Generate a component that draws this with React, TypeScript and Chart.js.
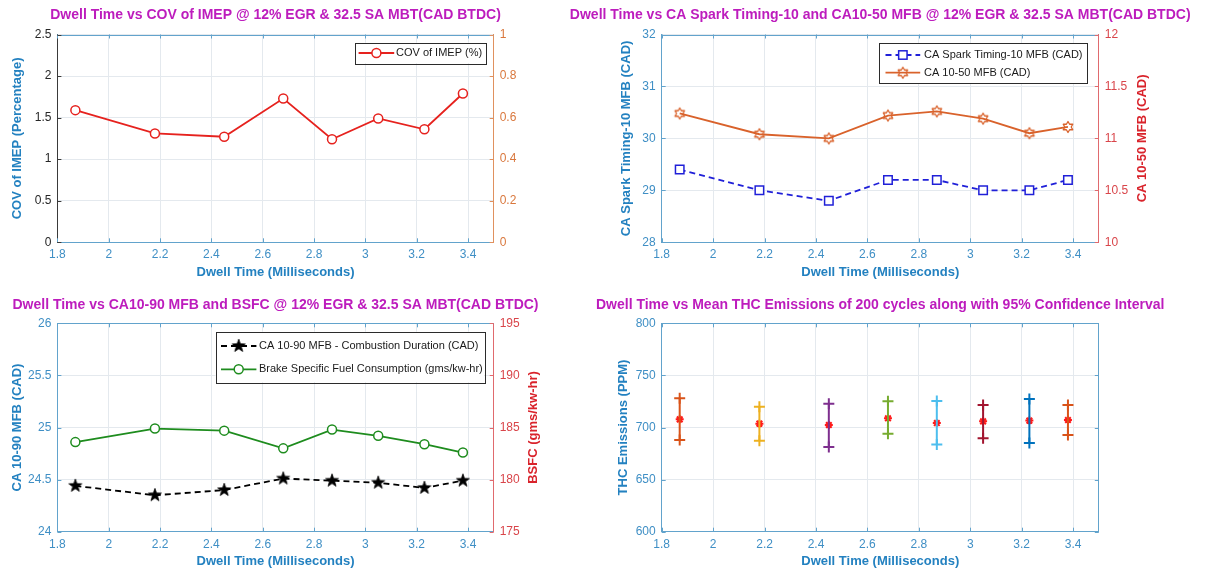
import React, { useEffect, useRef } from "react";
import { Chart, registerables } from "chart.js";

Chart.register(...registerables);

const PAGE_W = 1205;
const PAGE_H = 569;
const FONT = "'Liberation Sans', Arial, Helvetica, sans-serif";
const TITLE_HALF = 7.8; // half the line height of a 13px axis title

// ---- measurements ----
const dwellTime = [1.87, 2.18, 2.45, 2.68, 2.87, 3.05, 3.23, 3.38];
const covImep = [1.59, 1.31, 1.27, 1.73, 1.24, 1.49, 1.36, 1.79];
const sparkTo10Mfb = [29.4, 29.0, 28.8, 29.2, 29.2, 29.0, 29.0, 29.2];
const ca10to50Mfb = [11.24, 11.04, 11.0, 11.22, 11.26, 11.19, 11.05, 11.11];
const ca10to90Mfb = [24.44, 24.35, 24.4, 24.51, 24.49, 24.47, 24.42, 24.49];
const bsfc = [183.6, 184.9, 184.7, 183.0, 184.8, 184.2, 183.4, 182.6];
const thcMean = [707.8, 703.7, 702.4, 708.8, 704.3, 705.9, 706.6, 707.2];
const thcLow = [688.0, 687.4, 681.3, 694.1, 683.8, 689.6, 685.1, 692.8];
const thcHigh = [728.0, 720.0, 722.9, 725.1, 725.4, 721.6, 727.4, 721.6];

// ---- tick labels ----
const dwellTicks = [1.8, 2, 2.2, 2.4, 2.6, 2.8, 3, 3.2, 3.4];
const covTicks = [0, 0.5, 1, 1.5, 2, 2.5];
const covRightTicks = [0, 0.2, 0.4, 0.6, 0.8, 1];
const sparkTicks = [28, 29, 30, 31, 32];
const ca1050Ticks = [10, 10.5, 11, 11.5, 12];
const ca1090Ticks = [24, 24.5, 25, 25.5, 26];
const bsfcTicks = [175, 180, 185, 190, 195];
const thcTicks = [600, 650, 700, 750, 800];

// ---- colours ----
const MAGENTA = "#bd1cbd";
const BLUE_TITLE = "#2381c0";
const BLUE_TICK = "#3f8fc5";
const BLUE_LINE = "#62a3cc";
const DARK_TICK = "#262626";
const DARK_LINE = "#3a3a3a";
const ORANGE_TICK = "#d9773c";
const ORANGE_LINE = "#e0915f";
const RED_TITLE = "#d9232b";
const RED_TICK = "#d9454a";
const RED_LINE = "#e06a6e";
const GRID = "#e4e9ee";

const COV_RED = "#e6221e";
const SPARK_BLUE = "#2020d8";
const CA1050_ORANGE = "#d9622b";
const BSFC_GREEN = "#1e8c1e";
const MEAN_RED = "#ff1a1a";
const thcColors = ["#D95319", "#EDB120", "#7E2F8E", "#77AC30", "#4DBEEE", "#A2142F", "#0072BD", "#D95319"];

const fmt = (v: number) => String(Math.round(v * 1000) / 1000);
const pts = (ys: number[]) => dwellTime.map((x, i) => ({ x, y: ys[i] }));

type Marker = (ctx: CanvasRenderingContext2D, x: number, y: number) => void;
interface LegendRow { y: number; label: string; color: string; width: number; dash?: number[]; marker: Marker }
interface LegendSpec { x1: number; y1: number; x2: number; y2: number; sx1: number; sx2: number; tx: number; rows: LegendRow[] }
interface AxisSpec { ticks: number[]; title?: string; titleX?: number; titleColor: string; tickColor: string; lineColor: string }
interface PanelSpec {
  L: number; R: number; T: number; B: number;
  title: string; titleX: number; titleY: number; xTitleY: number;
  left: AxisSpec; right?: AxisSpec;
  datasets: any[]; legend?: LegendSpec;
}

function starImage(points: number, outer: number, inner: number, fill: string | null, stroke: string | null, lw: number) {
  const size = Math.ceil(outer * 2 + lw * 2 + 2);
  const c = document.createElement("canvas");
  c.width = size;
  c.height = size;
  const g = c.getContext("2d")!;
  g.beginPath();
  for (let i = 0; i < points * 2; i++) {
    const r = i % 2 === 0 ? outer : inner;
    const a = -Math.PI / 2 + (i * Math.PI) / points;
    const px = size / 2 + r * Math.cos(a);
    const py = size / 2 + r * Math.sin(a);
    if (i === 0) g.moveTo(px, py);
    else g.lineTo(px, py);
  }
  g.closePath();
  if (fill) { g.fillStyle = fill; g.fill(); }
  if (stroke) { g.strokeStyle = stroke; g.lineWidth = lw; g.lineJoin = "round"; g.stroke(); }
  return c;
}

const circleMarker = (color: string): Marker => (ctx, x, y) => {
  ctx.beginPath();
  ctx.arc(x, y, 4.5, 0, Math.PI * 2);
  ctx.fillStyle = "#fff";
  ctx.fill();
  ctx.lineWidth = 1.5;
  ctx.strokeStyle = color;
  ctx.stroke();
};
const squareMarker = (color: string): Marker => (ctx, x, y) => {
  ctx.fillStyle = "#fff";
  ctx.fillRect(x - 4.2, y - 4.2, 8.4, 8.4);
  ctx.lineWidth = 1.5;
  ctx.strokeStyle = color;
  ctx.strokeRect(x - 4.2, y - 4.2, 8.4, 8.4);
};
const imageMarker = (img: HTMLCanvasElement): Marker => (ctx, x, y) => {
  ctx.drawImage(img, x - img.width / 2, y - img.height / 2);
};

function decor(p: PanelSpec) {
  return {
    id: "panelDecor",
    beforeDatasetsDraw(chart: any) {
      const { ctx, chartArea: a, scales } = chart;
      ctx.save();
      ctx.lineWidth = 1;
      const seg = (x1: number, y1: number, x2: number, y2: number, c: string) => {
        ctx.strokeStyle = c;
        ctx.beginPath();
        ctx.moveTo(x1, y1);
        ctx.lineTo(x2, y2);
        ctx.stroke();
      };
      const top = Math.round(a.top) + 0.5;
      seg(a.left, top, a.right, top, BLUE_LINE);
      if (!p.right) {
        const rx = Math.round(a.right) - 0.5;
        seg(rx, a.top, rx, a.bottom, p.left.lineColor);
      }
      const TL = 4;
      for (const t of scales.x.ticks) {
        const px = Math.round(scales.x.getPixelForValue(t.value)) + 0.5;
        seg(px, a.bottom, px, a.bottom - TL, BLUE_LINE);
        seg(px, a.top, px, a.top + TL, BLUE_LINE);
      }
      for (const t of scales.y.ticks) {
        const py = Math.round(scales.y.getPixelForValue(t.value)) + 0.5;
        seg(a.left, py, a.left + TL, py, p.left.lineColor);
        if (!p.right) seg(a.right, py, a.right - TL, py, p.left.lineColor);
      }
      if (p.right && scales.y1) {
        for (const t of scales.y1.ticks) {
          const py = Math.round(scales.y1.getPixelForValue(t.value)) + 0.5;
          seg(a.right, py, a.right - TL, py, p.right.lineColor);
        }
      }
      ctx.restore();
    },
    afterDraw(chart: any) {
      const { ctx, chartArea: a } = chart;
      ctx.save();
      // panel heading
      ctx.font = `bold 14px ${FONT}`;
      ctx.fillStyle = MAGENTA;
      ctx.textAlign = "center";
      ctx.textBaseline = "middle";
      ctx.fillText(p.title, p.titleX, p.titleY);

      // right-hand axis title, reading bottom to top
      if (p.right && p.right.title && p.right.titleX != null) {
        ctx.save();
        ctx.translate(p.right.titleX, (a.top + a.bottom) / 2);
        ctx.rotate(-Math.PI / 2);
        ctx.font = `bold 13px ${FONT}`;
        ctx.fillStyle = p.right.titleColor;
        ctx.fillText(p.right.title, 0, 0);
        ctx.restore();
      }

      // boxed legend inside the plot
      const lg = p.legend;
      if (lg) {
        ctx.fillStyle = "#fff";
        ctx.fillRect(lg.x1, lg.y1, lg.x2 - lg.x1, lg.y2 - lg.y1);
        ctx.lineWidth = 1;
        ctx.strokeStyle = "#2b2b2b";
        ctx.strokeRect(Math.round(lg.x1) + 0.5, Math.round(lg.y1) + 0.5, Math.round(lg.x2 - lg.x1), Math.round(lg.y2 - lg.y1));
        for (const r of lg.rows) {
          ctx.setLineDash(r.dash || []);
          ctx.strokeStyle = r.color;
          ctx.lineWidth = r.width;
          ctx.beginPath();
          ctx.moveTo(lg.sx1, r.y);
          ctx.lineTo(lg.sx2, r.y);
          ctx.stroke();
          ctx.setLineDash([]);
          r.marker(ctx, (lg.sx1 + lg.sx2) / 2, r.y);
          ctx.font = `11px ${FONT}`;
          ctx.fillStyle = "#1a1a1a";
          ctx.textAlign = "left";
          ctx.textBaseline = "middle";
          ctx.fillText(r.label, lg.tx, r.y);
        }
      }
      ctx.restore();
    },
  };
}

function fixedTicks(values: number[]) {
  return (scale: any) => {
    scale.ticks = values.map((v) => ({ value: v }));
  };
}

function buildConfig(p: PanelSpec) {
  const leftEdge = (p.left.titleX ?? p.L - 40) - TITLE_HALF;
  const leftW = p.L - leftEdge;
  let rightEdge = p.R;
  if (p.right) rightEdge = p.right.titleX != null ? p.right.titleX + TITLE_HALF : p.R + 30;
  const rightW = rightEdge - p.R;
  const xBottom = p.xTitleY + TITLE_HALF;
  const xH = xBottom - p.B;
  const padding = { left: leftEdge, right: PAGE_W - rightEdge, top: p.T, bottom: PAGE_H - xBottom };

  const tickFont = { size: 12, family: FONT };
  const titleFont = { size: 13, weight: "bold" as const, family: FONT };

  const scales: any = {
    x: {
      type: "linear",
      min: 1.8,
      max: 3.5,
      afterBuildTicks: fixedTicks(dwellTicks),
      afterFit: (s: any) => { s.height = xH; },
      grid: { color: GRID, drawTicks: false, lineWidth: 1 },
      border: { color: BLUE_LINE, width: 1 },
      ticks: { color: BLUE_TICK, font: tickFont, padding: 5.5, autoSkip: false, maxRotation: 0, callback: (v: any) => fmt(Number(v)) },
      title: { display: true, text: "Dwell Time (Milliseconds)", color: BLUE_TITLE, font: titleFont, padding: 0 },
    },
    y: {
      type: "linear",
      position: "left",
      min: p.left.ticks[0],
      max: p.left.ticks[p.left.ticks.length - 1],
      afterBuildTicks: fixedTicks(p.left.ticks),
      afterFit: (s: any) => { s.width = leftW; },
      grid: { color: GRID, drawTicks: false, lineWidth: 1 },
      border: { color: p.left.lineColor, width: 1 },
      ticks: { color: p.left.tickColor, font: tickFont, padding: 6, autoSkip: false, callback: (v: any) => fmt(Number(v)) },
      title: { display: !!p.left.title, text: p.left.title || "", color: p.left.titleColor, font: titleFont, padding: 0 },
    },
  };
  if (p.right) {
    scales.y1 = {
      type: "linear",
      position: "right",
      min: p.right.ticks[0],
      max: p.right.ticks[p.right.ticks.length - 1],
      afterBuildTicks: fixedTicks(p.right.ticks),
      afterFit: (s: any) => { s.width = rightW; },
      grid: { display: false, drawTicks: false },
      border: { display: true, color: p.right.lineColor, width: 1 },
      ticks: { color: p.right.tickColor, font: tickFont, padding: 6, autoSkip: false, callback: (v: any) => fmt(Number(v)) },
      title: { display: false },
    };
  }

  return {
    padding,
    config: {
      type: "line" as const,
      data: { datasets: p.datasets },
      options: {
        animation: false as const,
        responsive: false,
        devicePixelRatio: 1,
        events: [],
        layout: { padding },
        elements: { line: { tension: 0 } },
        plugins: { legend: { display: false }, tooltip: { enabled: false }, title: { display: false } },
        scales,
      },
      plugins: [decor(p)],
    },
  };
}

function makePanels(): PanelSpec[] {
  const hexagram = starImage(6, 5.5, 3.2, null, CA1050_ORANGE, 1.3);
  const pentagram = starImage(5, 6.8, 2.7, "#000", "#000", 0.8);

  const p1: PanelSpec = {
    L: 57.4, R: 493.7, T: 34.5, B: 242.3,
    title: "Dwell Time vs COV of IMEP @ 12% EGR & 32.5 SA MBT(CAD BTDC)",
    titleX: 275.5, titleY: 15, xTitleY: 272.3,
    left: { ticks: covTicks, title: "COV of IMEP (Percentage)", titleX: 17.2, titleColor: BLUE_TITLE, tickColor: DARK_TICK, lineColor: DARK_LINE },
    right: { ticks: covRightTicks, titleColor: ORANGE_TICK, tickColor: ORANGE_TICK, lineColor: ORANGE_LINE },
    datasets: [
      {
        label: "COV of IMEP (%)", data: pts(covImep), yAxisID: "y",
        borderColor: COV_RED, borderWidth: 1.8, pointStyle: "circle", pointRadius: 4.5,
        pointBorderWidth: 1.5, pointBorderColor: COV_RED, pointBackgroundColor: "#fff",
      },
    ],
    legend: {
      x1: 354.8, y1: 42.7, x2: 485.3, y2: 63.3, sx1: 358.6, sx2: 394.2, tx: 396,
      rows: [{ y: 53, label: "COV of IMEP (%)", color: COV_RED, width: 1.8, marker: circleMarker(COV_RED) }],
    },
  };

  const p2: PanelSpec = {
    L: 661.7, R: 1098.8, T: 34.5, B: 242.3,
    title: "Dwell Time vs CA Spark Timing-10 and CA10-50 MFB @ 12% EGR & 32.5 SA MBT(CAD BTDC)",
    titleX: 880.2, titleY: 15, xTitleY: 272.3,
    left: { ticks: sparkTicks, title: "CA Spark Timing-10 MFB (CAD)", titleX: 626.2, titleColor: BLUE_TITLE, tickColor: BLUE_TICK, lineColor: BLUE_LINE },
    right: { ticks: ca1050Ticks, title: "CA 10-50 MFB (CAD)", titleX: 1142, titleColor: RED_TITLE, tickColor: RED_TICK, lineColor: RED_LINE },
    datasets: [
      {
        label: "CA Spark Timing-10 MFB (CAD)", data: pts(sparkTo10Mfb), yAxisID: "y",
        borderColor: SPARK_BLUE, borderWidth: 1.8, borderDash: [6, 4], pointStyle: "rect", pointRadius: 6,
        pointBorderWidth: 1.5, pointBorderColor: SPARK_BLUE, pointBackgroundColor: "#fff",
      },
      {
        label: "CA 10-50 MFB (CAD)", data: pts(ca10to50Mfb), yAxisID: "y1",
        borderColor: CA1050_ORANGE, borderWidth: 1.8, pointStyle: hexagram, pointRadius: 6,
      },
    ],
    legend: {
      x1: 878.6, y1: 43.3, x2: 1086.9, y2: 83.3, sx1: 885.5, sx2: 920.2, tx: 924,
      rows: [
        { y: 55, label: "CA Spark Timing-10 MFB (CAD)", color: SPARK_BLUE, width: 1.8, dash: [6, 4], marker: squareMarker(SPARK_BLUE) },
        { y: 72.7, label: "CA 10-50 MFB (CAD)", color: CA1050_ORANGE, width: 1.8, marker: imageMarker(hexagram) },
      ],
    },
  };

  const p3: PanelSpec = {
    L: 57.4, R: 493.7, T: 323.3, B: 531.7,
    title: "Dwell Time vs CA10-90 MFB and BSFC @ 12% EGR & 32.5 SA MBT(CAD BTDC)",
    titleX: 275.5, titleY: 305, xTitleY: 561,
    left: { ticks: ca1090Ticks, title: "CA 10-90 MFB (CAD)", titleX: 17.2, titleColor: BLUE_TITLE, tickColor: BLUE_TICK, lineColor: BLUE_LINE },
    right: { ticks: bsfcTicks, title: "BSFC (gms/kw-hr)", titleX: 533, titleColor: RED_TITLE, tickColor: RED_TICK, lineColor: RED_LINE },
    datasets: [
      {
        label: "CA 10-90 MFB - Combustion Duration (CAD)", data: pts(ca10to90Mfb), yAxisID: "y",
        borderColor: "#000", borderWidth: 1.8, borderDash: [6, 4], pointStyle: pentagram, pointRadius: 6,
      },
      {
        label: "Brake Specific Fuel Consumption (gms/kw-hr)", data: pts(bsfc), yAxisID: "y1",
        borderColor: BSFC_GREEN, borderWidth: 1.8, pointStyle: "circle", pointRadius: 4.5,
        pointBorderWidth: 1.5, pointBorderColor: BSFC_GREEN, pointBackgroundColor: "#fff",
      },
    ],
    legend: {
      x1: 215.5, y1: 331.7, x2: 484, y2: 382.3, sx1: 221, sx2: 256.4, tx: 259,
      rows: [
        { y: 346, label: "CA 10-90 MFB - Combustion Duration (CAD)", color: "#000", width: 1.8, dash: [6, 4], marker: imageMarker(pentagram) },
        { y: 369.3, label: "Brake Specific Fuel Consumption (gms/kw-hr)", color: BSFC_GREEN, width: 1.8, marker: circleMarker(BSFC_GREEN) },
      ],
    },
  };

  const ciSets = dwellTime.map((x, i) => ({
    label: `CI ${x}`, data: [{ x, y: thcLow[i] }, { x, y: thcHigh[i] }], yAxisID: "y",
    borderColor: thcColors[i], borderWidth: 2, pointStyle: "cross", pointRadius: 5.5,
    pointBorderWidth: 2, pointBorderColor: thcColors[i],
  }));
  const p4: PanelSpec = {
    L: 661.7, R: 1098.8, T: 323.3, B: 531.7,
    title: "Dwell Time vs Mean THC Emissions of 200 cycles along with 95% Confidence Interval",
    titleX: 880.2, titleY: 305, xTitleY: 561,
    left: { ticks: thcTicks, title: "THC Emissions (PPM)", titleX: 623, titleColor: BLUE_TITLE, tickColor: BLUE_TICK, lineColor: BLUE_LINE },
    datasets: [
      ...ciSets,
      {
        label: "Mean THC", data: pts(thcMean), yAxisID: "y", showLine: false,
        pointStyle: "star", pointRadius: 4, pointBorderWidth: 2, pointBorderColor: MEAN_RED, pointBackgroundColor: MEAN_RED,
      },
    ],
  };
  return [p1, p2, p3, p4];
}

export default function App() {
  const r1 = useRef<HTMLCanvasElement>(null);
  const r2 = useRef<HTMLCanvasElement>(null);
  const r3 = useRef<HTMLCanvasElement>(null);
  const r4 = useRef<HTMLCanvasElement>(null);
  const refs = [r1, r2, r3, r4];

  useEffect(() => {
    Chart.defaults.font.family = FONT;
    const panels = makePanels();
    const charts: Chart[] = panels.map((p, i) => {
      const { padding, config } = buildConfig(p);
      const chart = new Chart(refs[i].current!, config as any);
      // nudge the outer padding so the plot box lands on the requested frame
      const pad = { ...padding };
      for (let k = 0; k < 3; k++) {
        const a = chart.chartArea;
        const dt = p.T - a.top;
        const db = a.bottom - p.B;
        const dl = p.L - a.left;
        const dr = a.right - p.R;
        if (Math.abs(dt) + Math.abs(db) + Math.abs(dl) + Math.abs(dr) < 0.05) break;
        pad.top += dt;
        pad.bottom += db;
        pad.left += dl;
        pad.right += dr;
        (chart.options as any).layout.padding = { ...pad };
        chart.update();
      }
      return chart;
    });
    return () => charts.forEach((c) => c.destroy());
  }, []);

  return (
    <div style={{ position: "absolute", left: 0, top: 0, width: PAGE_W, height: PAGE_H, background: "#fff", overflow: "hidden" }}>
      {refs.map((r, i) => (
        <canvas
          key={i}
          ref={r}
          width={PAGE_W}
          height={PAGE_H}
          style={{ position: "absolute", left: 0, top: 0, width: PAGE_W, height: PAGE_H }}
        />
      ))}
    </div>
  );
}
